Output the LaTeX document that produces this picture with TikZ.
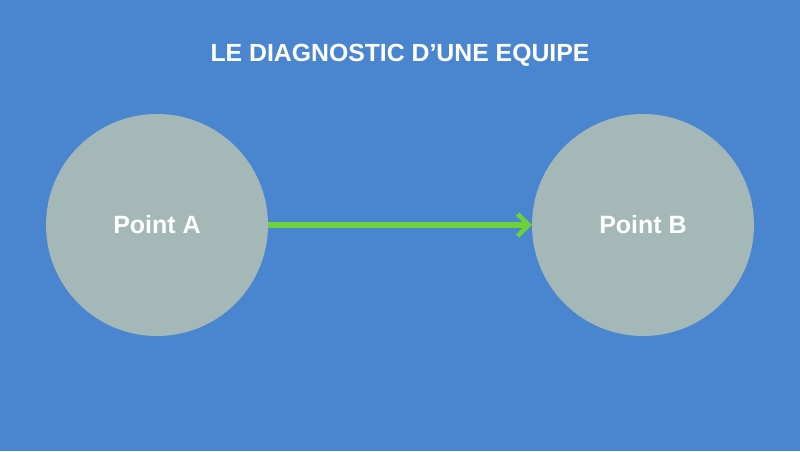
\documentclass[tikz,border=0pt]{standalone}
\usepackage{fontspec}
\setmainfont{Liberation Sans}
\usetikzlibrary{arrows.meta}
\definecolor{bg}{HTML}{4A86D0}
\definecolor{circ}{HTML}{A5B8B8}
\definecolor{grn}{HTML}{6DD13A}
\begin{document}
\begin{tikzpicture}[x=1pt,y=1pt,
  pt/.style={circle,fill=circ,minimum size=222pt,inner sep=0pt,text=white,font=\fontsize{25}{28}\selectfont\bfseries},
  conn/.style={draw=grn,line width=5.5pt,-{Straight Barb[length=11pt,width=22pt,line width=4.5pt]}}]
\fill[bg] (0,0) rectangle (800,451);
\useasboundingbox (0,0) rectangle (800,451);
\node[text=white,font=\fontsize{24.8}{28}\selectfont\bfseries] (title) at (400,396) {LE DIAGNOSTIC D’UNE EQUIPE};
\node[pt] (a) at (157,226) {Point A};
\node[pt] (b) at (643,226) {Point B};
\draw[conn] (a.east) -- (b.west);
\end{tikzpicture}
\end{document}
